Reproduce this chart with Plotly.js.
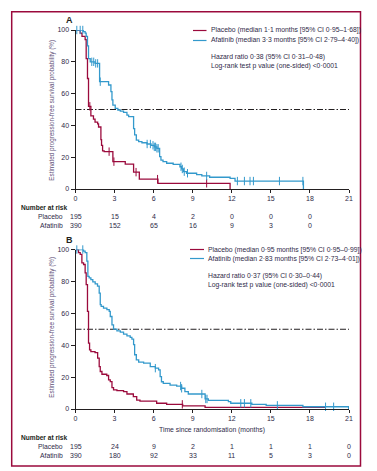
<!DOCTYPE html>
<html>
<head>
<meta charset="utf-8">
<script src="https://cdn.plot.ly/plotly-3.0.1.min.js"></script>
<style>
html,body{margin:0;padding:0;background:#fff;}
#chart{width:377px;height:471px;}
</style>
</head>
<body>
<div id="chart"></div>
<script>
// ---------- DATA ----------
// Panel A
const aPlaceboT = [0, 0.36, 0.5, 0.74, 0.82, 0.92, 1.0, 1.18, 1.38, 1.5, 1.7, 1.77, 1.95, 2.0, 2.08, 2.2, 2.87, 3.82, 4.46, 4.9, 6.33, 11.87];
const aPlaceboS = [100, 98, 96, 94, 82, 69.5, 52, 46, 44, 42, 41, 39, 31, 27.5, 24, 23.5, 17.2, 15.6, 10.6, 6.2, 3.6, 0];
const aPlaceboCens = [1.1, 2.58, 2.95, 4.65, 6.3, 10.07];

const aAfatinibT = [0, 0.6, 0.74, 0.82, 0.92, 1.0, 1.13, 1.5, 1.85, 2.54, 2.72, 2.8, 2.87, 3.05, 3.25, 3.44, 3.69, 3.95, 4.08, 4.46, 4.54, 4.67, 4.85, 5.1, 5.49, 5.8, 6.05, 6.25, 6.46, 6.56, 6.72, 7.0, 7.5, 8.02, 8.15, 8.28, 8.53, 9.3, 9.7, 10.3, 11.87, 12.25, 17.5];
const aAfatinibS = [100, 99, 98, 96, 90, 82, 80, 79, 67.5, 65.4, 61.2, 56, 52.8, 50.7, 49.7, 49, 48.2, 46.5, 45.5, 38, 34, 30.8, 29.8, 29.1, 28.3, 27.5, 26.5, 25.6, 20.3, 18.2, 17.2, 16.2, 15.5, 14, 12.6, 10.9, 9.9, 9.0, 8.2, 7.4, 6.7, 5.0, 0];
const aAfatinibCens = [0.1, 0.36, 0.56, 1.25, 1.4, 1.55, 1.7, 1.9, 5.5, 5.75, 5.95, 6.05, 6.15, 6.25, 6.35, 8.1, 8.2, 8.35, 8.6, 10.07, 12.43, 12.97, 13.4, 13.66, 15.66, 17.46];

// Panel B
const bPlaceboT = [0, 0.23, 0.36, 0.49, 0.62, 0.74, 0.82, 0.92, 1.0, 1.08, 1.18, 1.5, 1.7, 1.82, 1.9, 2.03, 2.4, 2.54, 2.67, 2.8, 2.92, 3.18, 3.69, 3.95, 4.44, 4.7, 4.95, 6.23, 7.0, 8.23, 9.95, 19.2];
const bPlaceboS = [100, 98, 97, 91.6, 90.6, 85.3, 78, 61.2, 41.3, 37.1, 36, 35.4, 31.9, 26.6, 23.5, 21.8, 21, 18.2, 17.2, 13.4, 12, 11.5, 10.9, 9.4, 7.7, 5.6, 5.0, 3.6, 2.9, 1.9, 1.0, 1.0];
const bPlaceboCens = [8.2];

const bAfatinibT = [0, 0.62, 0.74, 0.87, 0.95, 1.05, 1.18, 1.33, 1.51, 1.69, 1.82, 1.9, 1.97, 2.15, 2.41, 2.59, 2.67, 2.8, 2.92, 3.18, 3.44, 3.69, 3.95, 4.2, 4.33, 4.46, 4.54, 4.67, 4.85, 5.23, 5.74, 6.13, 6.38, 6.5, 6.6, 6.74, 7.26, 7.77, 8.15, 8.4, 8.66, 9.95, 10.2, 11.74, 11.92, 13.54, 14.64, 17.46, 20.97];
const bAfatinibS = [100, 99, 98, 92.7, 83.2, 82.2, 81.1, 79.7, 78.4, 77, 72.7, 65.4, 64.4, 63.3, 62.3, 61.2, 58, 52.8, 50.1, 49, 48.2, 47, 45.9, 44.9, 43.8, 40.3, 34, 30.8, 29.4, 28.7, 26.6, 25.6, 24.5, 20.3, 17.1, 16.1, 15.0, 14.4, 13, 10.9, 9.4, 6.3, 5.4, 4.6, 3.6, 2.9, 2.3, 1.4, 0];
const bAfatinibCens = [0.1, 0.56, 6.13, 8.07, 8.15, 9.7, 10.0, 10.1, 12.69, 12.97, 13.46, 15.5, 19.2, 19.82];

const medianLevel = 50;

// Number at risk
const riskTimesA = [0, 3, 6, 9, 12, 15, 18];
const riskPlaceboA = [195, 15, 4, 2, 0, 0, 0];
const riskAfatinibA = [390, 152, 65, 16, 9, 3, 0];
const riskTimesB = [0, 3, 6, 9, 12, 15, 18, 21];
const riskPlaceboB = [195, 24, 9, 2, 1, 1, 1, 0];
const riskAfatinibB = [390, 180, 92, 33, 11, 5, 3, 0];

const xTicks = [0, 3, 6, 9, 12, 15, 18, 21];
const yTicks = [0, 20, 40, 60, 80, 100];

const legendA = ["Placebo (median 1·1 months [95% CI 0·95–1·68])", "Afatinib (median 3·3 months [95% CI 2·79–4·40])"];
const statsA = ["Hazard ratio 0·38 (95% CI 0·31–0·48)", "Log-rank test p value (one-sided) <0·0001"];
const legendB = ["Placebo (median 0·95 months [95% CI 0·95–0·99])", "Afatinib (median 2·83 months [95% CI 2·73–4·01])"];
const statsB = ["Hazard ratio 0·37 (95% CI 0·30–0·44)", "Log-rank test p value (one-sided) <0·0001"];
const yTitle = "Estimated progression-free survival probability (%)";
const xTitle = "Time since randomisation (months)";

// ---------- STYLE ----------
const W = 377, H = 471;
const RED = '#9b0a3c', BLUE = '#3399cc';
const TXT = '#2f2a48', AX = '#231f20';
const FONT = 'Liberation Sans, Arial, sans-serif';
const X = p => p / W, Y = p => 1 - p / H;

function stepAt(t, ts, ss) {
  let v = ss[0];
  for (let i = 0; i < ts.length; i++) { if (ts[i] <= t) v = ss[i]; }
  return v;
}

function kmTraces(T, S, C, color, xa, ya) {
  return [
    {x: T, y: S, type: 'scatter', mode: 'lines', line: {shape: 'hv', color: color, width: 1.3},
     xaxis: xa, yaxis: ya, cliponaxis: false, hoverinfo: 'skip'},
    {x: C, y: C.map(t => stepAt(t, T, S)), type: 'scatter', mode: 'markers',
     marker: {symbol: 'line-ns-open', size: 6, color: color, line: {color: color, width: 1}},
     xaxis: xa, yaxis: ya, cliponaxis: false, hoverinfo: 'skip'}
  ];
}

const traces = [].concat(
  [{x: [0, 21], y: [medianLevel, medianLevel], type: 'scatter', mode: 'lines', xaxis: 'x', yaxis: 'y',
    line: {color: AX, width: 1, dash: '6px,2px,1.5px,2px'}, hoverinfo: 'skip'}],
  kmTraces(aPlaceboT, aPlaceboS, aPlaceboCens, RED, 'x', 'y'),
  kmTraces(aAfatinibT, aAfatinibS, aAfatinibCens, BLUE, 'x', 'y'),
  [{x: [0, 21], y: [medianLevel, medianLevel], type: 'scatter', mode: 'lines', xaxis: 'x2', yaxis: 'y2',
    line: {color: AX, width: 1, dash: '6px,2px,1.5px,2px'}, hoverinfo: 'skip'}],
  kmTraces(bPlaceboT, bPlaceboS, bPlaceboCens, RED, 'x2', 'y2'),
  kmTraces(bAfatinibT, bAfatinibS, bAfatinibCens, BLUE, 'x2', 'y2')
);

const xaxisBase = {
  domain: [X(75.5), X(349)], range: [0, 21], tickvals: xTicks, showgrid: false, zeroline: false,
  showline: true, linecolor: AX, linewidth: 1, ticks: 'outside', ticklen: 3, tickwidth: 1, tickcolor: AX,
  tickfont: {family: FONT, size: 7, color: TXT}, fixedrange: true
};
const yaxisBase = {
  range: [0, 100], tickvals: yTicks, showgrid: false, zeroline: false,
  showline: true, linecolor: AX, linewidth: 1, ticks: 'outside', ticklen: 4, tickwidth: 1, tickcolor: AX,
  tickfont: {family: FONT, size: 7, color: TXT}, fixedrange: true
};

const ann = [];
function txt(x, y, text, opts) {
  ann.push(Object.assign({x: x, y: y, xref: 'paper', yref: 'paper', text: text, showarrow: false,
    xanchor: 'left', yanchor: 'middle', font: {family: FONT, size: 6.8, color: TXT}}, opts || {}));
}
// panel labels
txt(X(63.5), Y(20.5), '<b>A</b>', {font: {family: FONT, size: 9, color: AX}});
txt(X(63.5), Y(240), '<b>B</b>', {font: {family: FONT, size: 9, color: AX}});
// y titles
txt(X(51.7), Y(110), yTitle, {textangle: -90, xanchor: 'center', font: {family: FONT, size: 6.3, color: '#5e4f78'}});
txt(X(51.7), Y(327), yTitle, {textangle: -90, xanchor: 'center', font: {family: FONT, size: 6.3, color: '#5e4f78'}});
// x title B
txt(X(212), Y(429.5), xTitle, {xanchor: 'center'});
// legends
txt(X(209), Y(30), legendA[0]);
txt(X(209), Y(40), legendA[1]);
txt(X(209), Y(57.5), statsA[0]);
txt(X(209), Y(66.5), statsA[1]);
txt(X(205.5), Y(249.5), legendB[0]);
txt(X(205.5), Y(258.5), legendB[1]);
txt(X(206), Y(276), statsB[0]);
txt(X(206), Y(285), statsB[1]);
// number at risk
function riskTable(times, pl, af, yHead, yP, yA, xa) {
  txt(X(18.5), Y(yHead), '<b>Number at risk</b>', {font: {family: FONT, size: 6.6, color: AX}});
  txt(X(65), Y(yP), 'Placebo', {xanchor: 'right'});
  txt(X(65), Y(yA), 'Afatinib', {xanchor: 'right'});
  times.forEach((t, i) => {
    ann.push({x: t, y: Y(yP), xref: xa, yref: 'paper', text: String(pl[i]), showarrow: false,
      xanchor: 'center', yanchor: 'middle', font: {family: FONT, size: 7, color: TXT}});
    ann.push({x: t, y: Y(yA), xref: xa, yref: 'paper', text: String(af[i]), showarrow: false,
      xanchor: 'center', yanchor: 'middle', font: {family: FONT, size: 7, color: TXT}});
  });
}
riskTable(riskTimesA, riskPlaceboA, riskAfatinibA, 207.7, 216.5, 225.5, 'x');
riskTable(riskTimesB, riskPlaceboB, riskAfatinibB, 437.7, 446.5, 455.5, 'x2');

const shapes = [
  {type: 'rect', xref: 'paper', yref: 'paper', x0: X(11.7), x1: X(360.5), y0: Y(466), y1: Y(11.7),
   line: {color: RED, width: 1.5}},
  {type: 'line', xref: 'paper', yref: 'paper', x0: X(193), x1: X(206.5), y0: Y(30.5), y1: Y(30.5), line: {color: RED, width: 1.2}},
  {type: 'line', xref: 'paper', yref: 'paper', x0: X(193), x1: X(206.5), y0: Y(40.5), y1: Y(40.5), line: {color: BLUE, width: 1.2}},
  {type: 'line', xref: 'paper', yref: 'paper', x0: X(190), x1: X(204), y0: Y(249.5), y1: Y(249.5), line: {color: RED, width: 1.2}},
  {type: 'line', xref: 'paper', yref: 'paper', x0: X(190), x1: X(204), y0: Y(258.5), y1: Y(258.5), line: {color: BLUE, width: 1.2}}
];

const layout = {
  width: W, height: H, margin: {l: 0, r: 0, t: 0, b: 0},
  paper_bgcolor: '#fff', plot_bgcolor: 'rgba(0,0,0,0)', showlegend: false, hovermode: false,
  xaxis: Object.assign({}, xaxisBase, {anchor: 'y'}),
  yaxis: Object.assign({}, yaxisBase, {anchor: 'x', domain: [Y(189), Y(30)]}),
  xaxis2: Object.assign({}, xaxisBase, {anchor: 'y2'}),
  yaxis2: Object.assign({}, yaxisBase, {anchor: 'x2', domain: [Y(409), Y(249.5)]}),
  annotations: ann, shapes: shapes
};

Plotly.newPlot('chart', traces, layout, {staticPlot: true, displayModeBar: false});
</script>
</body>
</html>
